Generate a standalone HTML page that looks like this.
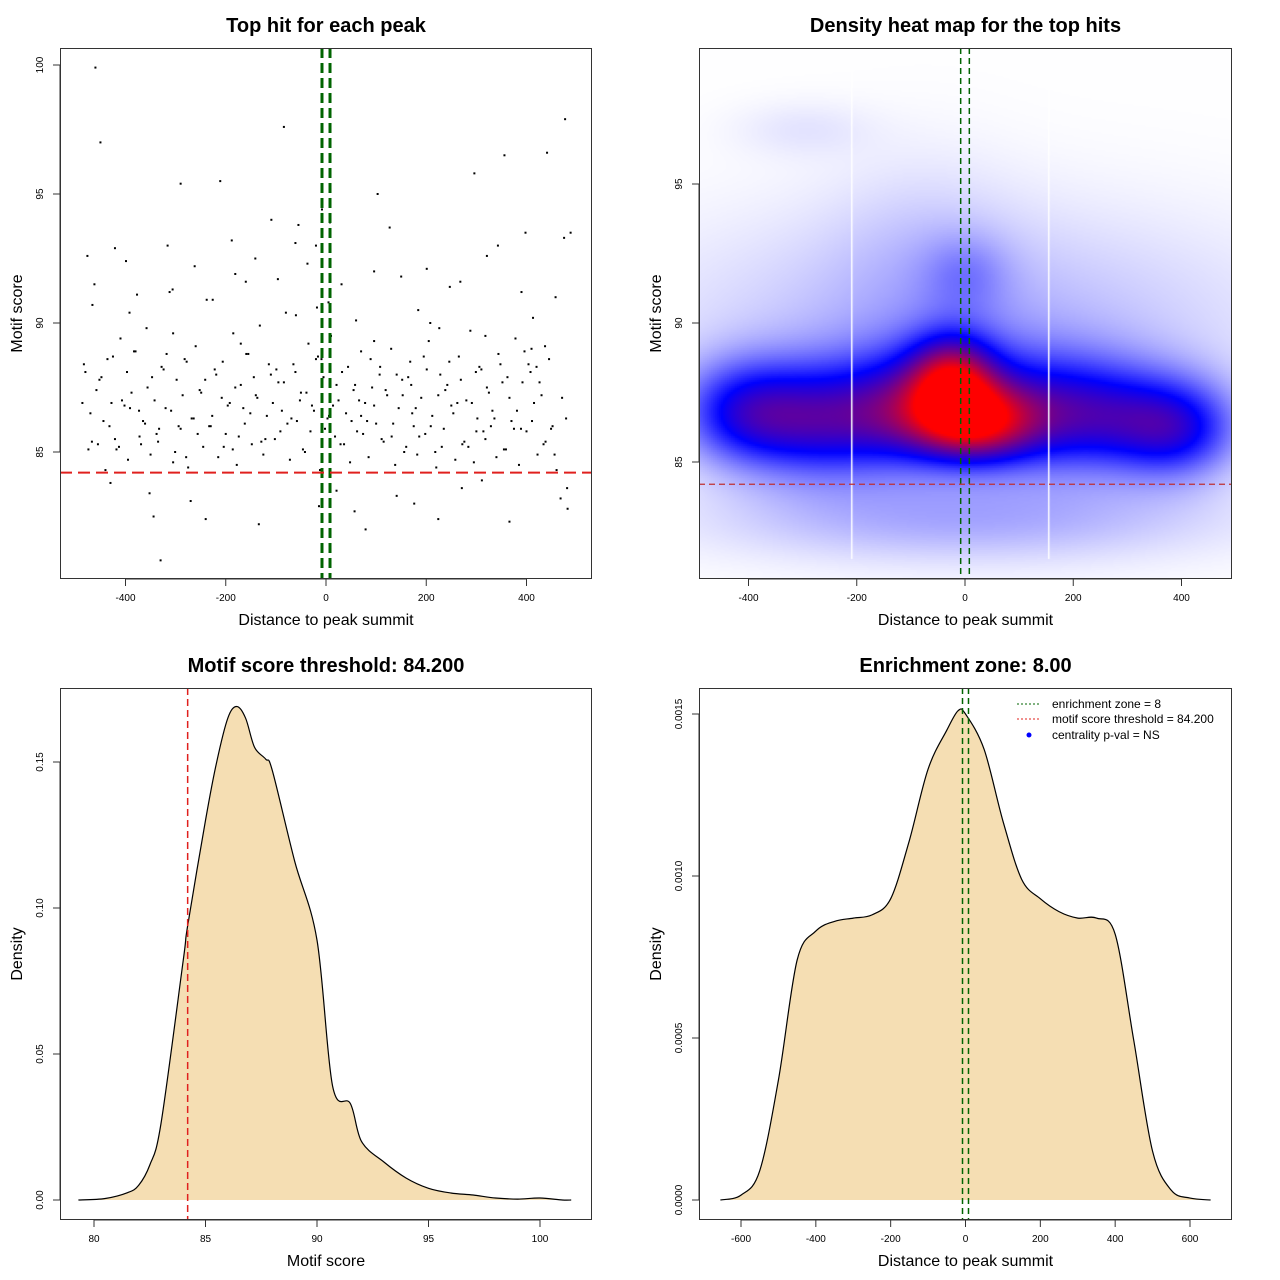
<!DOCTYPE html>
<html><head><meta charset="utf-8"><style>
html,body{margin:0;padding:0;background:#fff;}
#wrap{position:relative;width:1280px;height:1280px;overflow:hidden;font-family:"Liberation Sans",sans-serif;}
#heat{position:absolute;left:699px;top:48px;}
#ov{position:absolute;left:0;top:0;}
</style></head><body>
<div id="wrap">
<canvas id="heat" width="533" height="531"></canvas>
<svg id="ov" width="1280" height="1280" xmlns="http://www.w3.org/2000/svg"></svg>
</div>
<script>
// ---------- data ----------
const scatterX = [-480,-470,-462,-455,-448,-440,-432,-425,-418,-410,-402,-395,-388,-380,-372,-365,-358,-350,-342,-335,-328,-320,-312,-305,-298,-290,-282,-275,-268,-260,-252,-245,-238,-230,-222,-215,-208,-200,-192,-185,-178,-170,-162,-155,-148,-140,-132,-125,-118,-110,-102,-95,-88,-80,-72,-65,-58,-50,-42,-35,-28,-20,-12,-5,3,10,18,25,32,40,48,55,62,70,78,85,92,100,108,115,122,130,138,145,152,160,168,175,182,190,198,205,212,220,228,235,242,250,258,265,272,280,288,295,302,310,318,325,332,340,348,355,362,370,378,385,392,400,408,415,422,430,438,445,452,460,468,475,482,488,
-476,-450,-421,-399,-377,-344,-316,-290,-262,-240,-211,-188,-160,-134,-109,-84,-61,-37,-14,8,31,57,79,103,127,150,176,201,224,247,271,296,321,343,366,390,413,437,458,481,
-466,-430,-392,-352,-306,-270,-226,-181,-141,-96,-55,-18,21,60,96,141,184,226,268,311,356,398,441,477,-330,-20,-8,96,208,318,410,-460,-305,-170,-60,5,70,170,300,420,
-486,-474,-458,-444,-436,-421,-407,-391,-383,-369,-361,-347,-333,-324,-309,-301,-286,-278,-264,-256,-241,-233,-219,-204,-196,-181,-174,-159,-151,-137,-129,-114,-106,-91,-84,-69,-61,-46,-39,-24,-16,-2,6,21,29,44,51,66,74,89,96,111,119,134,141,156,164,179,186,201,209,224,231,246,254,269,276,291,299,314,321,336,344,359,366,381,389,404,411,426,434,449,456,471,479,
-483,-467,-452,-428,-413,-397,-373,-356,-338,-318,-294,-279,-249,-227,-206,-186,-165,-144,-121,-99,-77,-52,-31,-9,14,36,58,82,107,131,153,172,195,218,238,262,284,306,329,352,375,396,418,440,463,486];
const scatterY = [88.1,86.5,91.5,85.3,87.9,84.3,86.0,88.7,85.1,89.4,86.8,84.7,87.3,88.9,85.6,86.2,89.8,84.9,87.0,85.4,88.3,86.7,91.2,84.6,87.8,85.9,88.6,84.4,86.3,89.1,87.4,85.2,90.9,86.0,88.2,84.8,87.1,85.7,86.9,89.6,84.5,87.6,86.1,88.8,85.3,87.2,89.9,84.9,86.4,88.0,85.5,87.7,86.6,90.4,84.7,88.4,86.2,87.3,85.0,89.2,86.8,88.6,84.3,87.9,86.3,89.5,85.6,87.0,88.1,86.5,84.6,87.4,85.8,88.9,86.9,84.8,87.5,86.1,88.3,85.4,87.2,89.0,84.5,86.7,87.8,85.2,88.5,86.0,84.9,87.1,85.7,89.3,86.4,84.4,88.0,85.9,87.6,86.8,84.7,88.7,85.3,87.0,89.7,84.6,86.3,88.2,85.5,87.3,86.6,84.8,88.4,85.1,87.9,86.2,89.4,84.5,87.7,85.8,88.1,86.9,84.9,87.2,85.4,88.6,86.0,84.3,
83.2,93.3,82.8,93.5,92.6,97.0,92.9,92.4,91.1,82.5,93.0,95.4,92.2,82.4,95.5,93.2,91.6,82.2,94.0,97.6,93.1,92.3,82.9,93.9,91.5,82.7,82.0,95.0,93.7,91.8,83.0,92.1,82.4,91.4,83.6,95.8,92.6,93.0,82.3,91.2,
90.2,89.1,91.0,83.6,90.7,83.8,90.4,83.4,91.3,83.1,90.9,91.9,92.5,91.7,93.8,90.6,83.5,90.1,92.0,83.3,90.5,89.8,91.6,83.9,96.5,93.5,96.6,97.9,80.8,93.0,94.4,89.3,90.0,89.5,89.0,99.9,89.6,89.2,90.3,90.8,
86.4,87.6,85.8,88.3,86.9,85.1,87.4,86.2,88.6,85.5,87.0,86.7,88.9,85.3,86.1,87.9,85.9,88.2,86.6,85.0,87.2,88.5,86.3,85.7,87.8,86.0,88.0,85.2,86.8,87.5,85.6,88.8,86.5,87.1,85.4,88.4,86.9,85.8,87.7,86.3,88.1,85.1,87.3,86.6,88.7,85.9,86.4,87.6,85.3,88.3,86.2,87.0,85.7,88.6,86.8,85.5,87.4,86.1,88.0,85.0,87.9,86.7,85.6,88.2,86.0,87.2,85.2,88.5,86.5,87.8,85.4,86.9,88.1,85.8,87.5,86.3,88.8,85.1,87.1,86.6,85.9,88.4,86.2,87.7,85.3,
85.9,84.9,87.1,86.3,88.4,85.4,87.8,86.9,85.2,88.1,86.6,87.5,85.7,88.8,86.0,84.8,87.3,86.4,88.5,85.1,86.7,87.9,85.5,88.2,86.1,87.0,85.8,88.6,86.8,85.3,87.6,86.2,88.0,85.6,87.2,86.5,88.7,85.0,87.4,86.9,85.2,88.3,86.0,87.7,85.9,88.9];
const heatBlobX = [-410,-260,-100,-25,20,0,220,390,0,0,-300,0,-80];
const heatBlobY = [86.8,86.4,86.8,88.0,86.4,87.2,86.6,86.2,90.0,91.8,97.0,83.0,92.5];
const heatBlobSX = [85,100,80,55,75,190,120,80,380,55,90,320,120];
const heatBlobSY = [1.3,1.4,1.3,1.1,0.95,1.5,1.35,1.2,2.8,1.0,0.7,1.1,2.5];
const heatBlobAmp = [0.37,0.36,0.25,0.52,0.55,0.28,0.36,0.36,0.12,0.10,0.04,0.14,0.05];
const scoreX = [79.3,80.5,81.5,82,82.5,83,84,84.2,85,85.5,86,86.4,86.8,87.2,87.7,88,89,90,90.7,91.5,92,93,94,95,96,97,98,99,100,101,101.4];
const scoreD = [0,0.0005,0.0025,0.005,0.012,0.026,0.082,0.094,0.130,0.150,0.165,0.169,0.165,0.155,0.151,0.147,0.116,0.089,0.039,0.033,0.020,0.013,0.0075,0.004,0.0024,0.0017,0.0007,0.0003,0.0007,0,0];
const distX = [-655,-600,-550,-500,-450,-400,-350,-300,-250,-200,-150,-100,-50,-20,0,50,100,150,200,250,300,350,400,450,500,550,600,655];
const distD = [0,0.000015,0.00009,0.00037,0.00074,0.00083,0.00086,0.00087,0.00088,0.00093,0.00111,0.00133,0.00145,0.00151,0.00150,0.00139,0.00117,0.00099,0.00093,0.00089,0.00087,0.00087,0.00082,0.00049,0.00015,0.00003,0.000006,0];
const p1XTicks=[-400,-200,0,200,400], p1YTicks=[85,90,95,100];
const p2XTicks=[-400,-200,0,200,400], p2YTicks=[85,90,95];
const p3XTicks=[80,85,90,95,100], p3YTicks=[0,0.05,0.10,0.15], p3YLabels=["0.00","0.05","0.10","0.15"];
const p4XTicks=[-600,-400,-200,0,200,400,600], p4YTicks=[0,0.0005,0.0010,0.0015], p4YLabels=["0.0000","0.0005","0.0010","0.0015"];

// ---------- helpers ----------
const NS="http://www.w3.org/2000/svg", svg=document.getElementById('ov');
function mk(tag,attrs,parent,name){const e=document.createElementNS(NS,tag);for(const k in attrs)e.setAttribute(k,attrs[k]);(parent||svg).appendChild(e);


return e;}
function txt(s,x,y,size,opt,name){const e=mk('text',Object.assign({x:x,y:y,'font-size':size,'text-anchor':'middle','font-family':'Liberation Sans, sans-serif',fill:'#000'},opt||{}),null,name);e.textContent=s;return e;}
function lin(d0,d1,r0,r1){return v=>r0+(v-d0)*(r1-r0)/(d1-d0);}
function smooth(pts){
  let d='M'+pts[0][0].toFixed(1)+' '+pts[0][1].toFixed(1);
  for(let i=0;i<pts.length-1;i++){const p0=pts[Math.max(0,i-1)],p1=pts[i],p2=pts[i+1],p3=pts[Math.min(pts.length-1,i+2)];
    const c1=[p1[0]+(p2[0]-p0[0])/6,p1[1]+(p2[1]-p0[1])/6],c2=[p2[0]-(p3[0]-p1[0])/6,p2[1]-(p3[1]-p1[1])/6];
    d+=` C${c1[0].toFixed(1)} ${c1[1].toFixed(1)} ${c2[0].toFixed(1)} ${c2[1].toFixed(1)} ${p2[0].toFixed(1)} ${p2[1].toFixed(1)}`;}
  return d;}
function panel(p){
  const [L,T,R,B]=p.box;
  mk('rect',{x:L+.5,y:T+.5,width:R-L-1,height:B-T-1,fill:'none',stroke:'#333','stroke-width':1},null,p.id+'-plot-frame');
  txt(p.title,(L+R)/2,T-16,20,{'font-weight':'bold'},p.id+'-title');
  const xs=p.xt.map(p.x);
  mk('line',{x1:xs[0],x2:xs[xs.length-1],y1:B,y2:B,stroke:'#333'},null,p.id+'-x-axis-line');
  p.xt.forEach((v,i)=>{const X=p.x(v);mk('line',{x1:X,x2:X,y1:B,y2:B+7,stroke:'#333'},null,p.id+'-x-tick');txt(p.xl?p.xl[i]:String(v),X,B+22,10,{},p.id+'-x-tick-label');});
  const ys=p.yt.map(p.y);
  mk('line',{x1:L,x2:L,y1:ys[0],y2:ys[ys.length-1],stroke:'#333'},null,p.id+'-y-axis-line');
  p.yt.forEach((v,i)=>{const Y=p.y(v);mk('line',{x1:L-7,x2:L,y1:Y,y2:Y,stroke:'#333'},null,p.id+'-y-tick');txt(p.yl?p.yl[i]:String(v),L-17,Y,10,{transform:`rotate(-90 ${L-17} ${Y})`},p.id+'-y-tick-label');});
  txt(p.xtitle,(L+R)/2,B+46,16,{},p.id+'-x-axis-title');
  const yc=(T+B)/2, tx=L-38;
  txt(p.ytitle,tx,yc,16,{transform:`rotate(-90 ${tx} ${yc})`},p.id+'-y-axis-title');
}
function vdash(X,T,B,col,w,da,name){mk('line',{x1:X,x2:X,y1:T,y2:B,stroke:col,'stroke-width':w,'stroke-dasharray':da},null,name);}
function hdash(Y,L,R,col,w,da,name){mk('line',{x1:L,x2:R,y1:Y,y2:Y,stroke:col,'stroke-width':w,'stroke-dasharray':da},null,name);}

// ---------- panel 1 ----------
{const x=lin(0,400,326,526.5), y=lin(85,100,452,65);
 const g=mk('g',{},null,'scatter-points');
 const n=Math.min(scatterX.length,scatterY.length);
 for(let i=0;i<n;i++){mk('rect',{x:x(scatterX[i])-1,y:y(scatterY[i])-1,width:2,height:2,fill:'#000'},g,'scatter-point');}
 vdash(x(-8),48,579,'#006400',3,'10 5','enrichment-zone-left');
 vdash(x(8),48,579,'#006400',3,'10 5','enrichment-zone-right');
 hdash(y(84.2),60,592,'#e0201e',2,'12 6','score-threshold-line');
 panel({id:'p1',box:[60,48,592,579],x:x,y:y,title:'Top hit for each peak',xt:p1XTicks,yt:p1YTicks,xtitle:'Distance to peak summit',ytitle:'Motif score'});
}
// ---------- panel 2 ----------
{const x=lin(0,400,965,1181.5), y=lin(85,95,462,184);
 const cv=document.getElementById('heat'),ctx=cv.getContext('2d'),W=533,H=531,st=2;
 for(let py=0;py<H;py+=st)for(let px=0;px<W;px+=st){
   const dx=(px+699-965)/0.541, dy=85+(462-(py+48))/27.8;
   let d=0;for(let k=0;k<heatBlobX.length;k++){const a=(dx-heatBlobX[k])/heatBlobSX[k],b=(dy-heatBlobY[k])/heatBlobSY[k];d+=heatBlobAmp[k]*Math.exp(-0.5*(a*a+b*b));}
   let t=Math.min(1,d/0.95),r,gg,bb;
   if(t<0.45){const u=t/0.45;r=255*(1-u);gg=255*(1-u);bb=255;}else{const u=(t-0.45)/0.55;r=255*u;gg=0;bb=255*(1-u);}
   ctx.fillStyle=`rgb(${r|0},${gg|0},${bb|0})`;ctx.fillRect(px,py,st,st);}
 ctx.fillStyle='#fff';ctx.fillRect(851-699,0,1.5,H-20);ctx.fillRect(1048-699,0,1.5,H-20);
 vdash(x(-8),48,579,'#006400',1.5,'6 4','enrichment-zone-left');
 vdash(x(8),48,579,'#006400',1.5,'6 4','enrichment-zone-right');
 hdash(y(84.2),699,1232,'#c03030',1.2,'6 4','score-threshold-line');
 panel({id:'p2',box:[699,48,1232,579],x:x,y:y,title:'Density heat map for the top hits',xt:p2XTicks,yt:p2YTicks,xtitle:'Distance to peak summit',ytitle:'Motif score'});
}
// ---------- panel 3 ----------
{const x=lin(80,100,94,540), y=lin(0,0.15,1200,762);
 const pts=scoreX.map((v,i)=>[x(v),y(scoreD[i])]);
 const d=smooth(pts);
 mk('path',{d:d+' Z',fill:'#f5deb3',stroke:'none'},null,'score-density-area');
 mk('path',{d:d,fill:'none',stroke:'#000','stroke-width':1.2},null,'score-density-curve');
 vdash(x(84.2),688,1220,'#e0201e',1.5,'7 4','score-threshold-line');
 panel({id:'p3',box:[60,688,592,1220],x:x,y:y,title:'Motif score threshold: 84.200',xt:p3XTicks,yt:p3YTicks,yl:p3YLabels,xtitle:'Motif score',ytitle:'Density'});
}
// ---------- panel 4 ----------
{const x=lin(0,600,965.5,1190), y=lin(0,0.0015,1200,714);
 const pts=distX.map((v,i)=>[x(v),y(distD[i])]);
 const d=smooth(pts);
 mk('path',{d:d+' Z',fill:'#f5deb3',stroke:'none'},null,'distance-density-area');
 mk('path',{d:d,fill:'none',stroke:'#000','stroke-width':1.2},null,'distance-density-curve');
 vdash(x(-8),688,1220,'#006400',1.5,'6 4','enrichment-zone-left');
 vdash(x(8),688,1220,'#006400',1.5,'6 4','enrichment-zone-right');
 panel({id:'p4',box:[699,688,1232,1220],x:x,y:y,title:'Enrichment zone: 8.00',xt:p4XTicks,yt:p4YTicks,yl:p4YLabels,xtitle:'Distance to peak summit',ytitle:'Density'});
 const lg=mk('g',{},null,'legend');
 mk('line',{x1:1017,x2:1041,y1:704,y2:704,stroke:'#006400','stroke-dasharray':'2 2'},lg,'legend-line-enrichment');
 mk('line',{x1:1017,x2:1041,y1:719,y2:719,stroke:'#e0201e','stroke-dasharray':'2 2'},lg,'legend-line-threshold');
 mk('circle',{cx:1029,cy:735,r:2.5,fill:'#0000ff'},lg,'legend-dot-centrality');
 txt('enrichment zone = 8',1052,708,12,{'text-anchor':'start'},'legend-entry-enrichment');
 txt('motif score threshold = 84.200',1052,723,12,{'text-anchor':'start'},'legend-entry-threshold');
 txt('centrality p-val = NS',1052,739,12,{'text-anchor':'start'},'legend-entry-centrality');
}
</script>
</body></html>
